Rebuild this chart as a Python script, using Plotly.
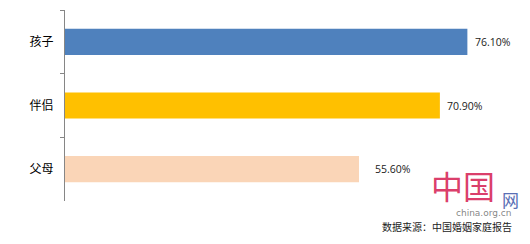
import plotly.graph_objects as go

categories = ["孩子", "伴侣", "父母"]
values = [76.10, 70.90, 55.60]
value_labels = ["76.10%", "70.90%", "55.60%"]
bar_colors = ["#4F81BD", "#FFC000", "#FAD5B7"]
label_shift = [6, 5, 14]
source_text = "数据来源：中国婚姻家庭报告"

W, H = 530, 244
L, R, T, B = 65, 42, 10, 43


def px(x):
    return (x - L) / (W - L - R)


def py(y):
    return (H - B - y) / (H - T - B)


fig = go.Figure()
fig.add_trace(go.Bar(
    y=categories, x=values, orientation="h",
    marker=dict(color=bar_colors, line=dict(width=0)),
    hoverinfo="skip",
))

for c, v, t, s in zip(categories, values, value_labels, label_shift):
    fig.add_annotation(x=v, y=c, xref="x", yref="y", text=t, showarrow=False,
                       xanchor="left", yanchor="middle", xshift=s,
                       font=dict(family="Open Sans", size=10.5, color="#1a1a1a"))

# watermark approximation
fig.add_annotation(xref="paper", yref="paper", x=px(463), y=py(185), text="中国", showarrow=False,
                   xanchor="center", yanchor="middle",
                   font=dict(family="Noto Sans CJK SC", size=32, color="rgba(214,36,86,0.9)"))
fig.add_annotation(xref="paper", yref="paper", x=px(510), y=py(199), text="网", showarrow=False,
                   xanchor="center", yanchor="middle",
                   font=dict(family="Noto Sans CJK SC", size=17, color="#5a6fb5"))
fig.add_annotation(xref="paper", yref="paper", x=px(484), y=py(213), text="china.org.cn", showarrow=False,
                   xanchor="center", yanchor="middle",
                   font=dict(family="DejaVu Sans", size=9, color="rgba(110,110,110,0.85)"))
fig.add_annotation(xref="paper", yref="paper", x=px(380), y=py(226), text=source_text, showarrow=False,
                   xanchor="left", yanchor="middle",
                   font=dict(family="Noto Sans CJK SC", size=10, color="#222222"))

fig.update_layout(
    width=W, height=H,
    margin=dict(l=L, r=R, t=T, b=B),
    paper_bgcolor="white", plot_bgcolor="white",
    showlegend=False, bargap=0.59,
    xaxis=dict(range=[0, 80], visible=False, fixedrange=True),
    yaxis=dict(categoryorder="array", categoryarray=categories, autorange="reversed",
               showline=True, linecolor="#868686", linewidth=1,
               ticks="outside", ticklen=4, tickcolor="#868686", tickson="boundaries",
               ticklabelstandoff=8,
               tickfont=dict(family="Noto Sans CJK SC", size=12, color="#000000"),
               showgrid=False, zeroline=False, fixedrange=True),
)

fig.write_html("out.html")
